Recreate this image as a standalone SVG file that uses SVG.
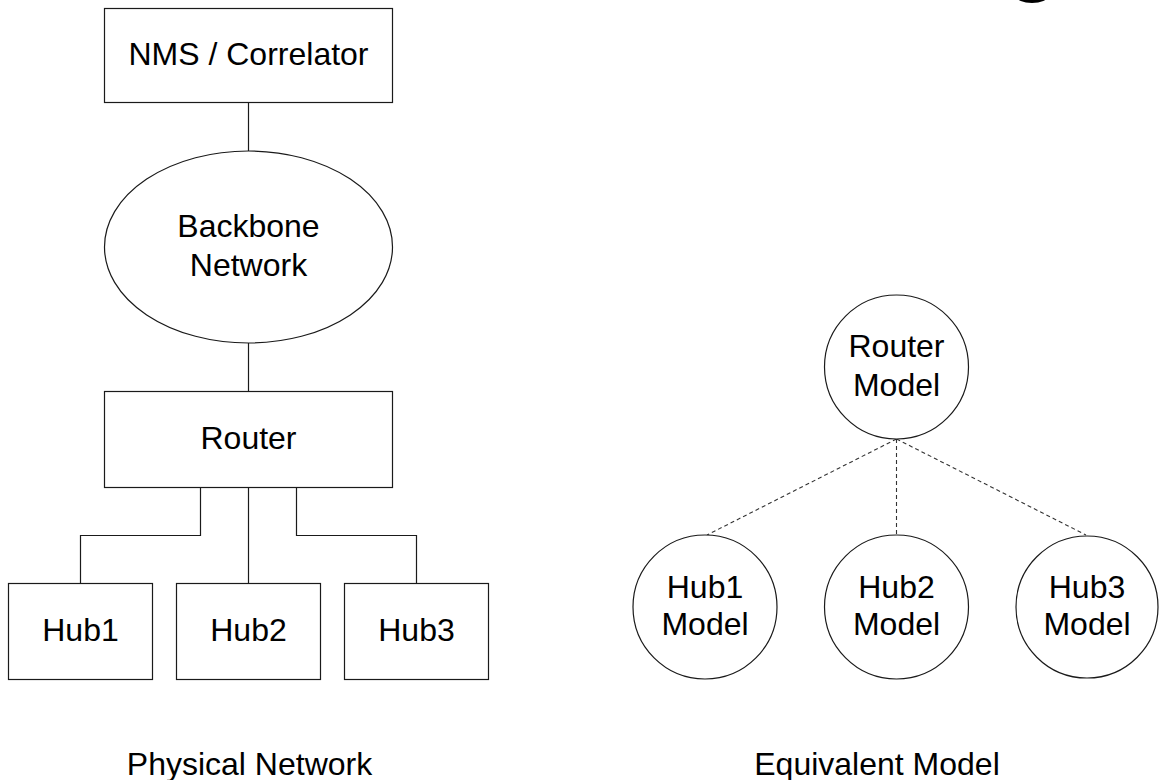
<svg xmlns="http://www.w3.org/2000/svg" width="1159" height="780" viewBox="0 0 1159 780">
  <style>
    .box { fill: #ffffff; stroke: #1a1a1a; stroke-width: 1.2; }
    .lbl { font-family: "Liberation Sans", Arial, sans-serif; font-size: 32px; fill: #000000; text-anchor: middle; }
    .wire { fill: none; stroke: #1a1a1a; stroke-width: 1.2; }
    .dash { fill: none; stroke: #333333; stroke-width: 1.1; stroke-dasharray: 4 3; }
  </style>
  <rect x="0" y="0" width="1159" height="780" fill="#ffffff"/>
  <!-- cropped glyph fragment at top edge -->
  <ellipse cx="1032" cy="-4" rx="16" ry="7" fill="#000000"/>

  <g id="connectors">
    <line class="wire" x1="248.5" y1="102.5" x2="248.5" y2="151"/>
    <line class="wire" x1="248.5" y1="343" x2="248.5" y2="391.5"/>
    <polyline class="wire" points="200.5,487.5 200.5,535.5 80.5,535.5 80.5,583.5"/>
    <line class="wire" x1="248.5" y1="487.5" x2="248.5" y2="583.5"/>
    <polyline class="wire" points="296.5,487.5 296.5,535.5 416.5,535.5 416.5,583.5"/>
    <line class="dash" x1="896.5" y1="439" x2="707" y2="535"/>
    <line class="dash" x1="896.5" y1="439" x2="896.5" y2="535"/>
    <line class="dash" x1="896.5" y1="439" x2="1086" y2="535"/>
  </g>

  <g id="nms">
    <rect class="box" x="104.5" y="8.5" width="288" height="94"/>
    <text class="lbl" x="248.5" y="65">NMS / Correlator</text>
  </g>
  <g id="backbone">
    <ellipse class="box" cx="248.5" cy="247" rx="144" ry="96"/>
    <text class="lbl" x="248.5" y="237">Backbone</text>
    <text class="lbl" x="248.5" y="276">Network</text>
  </g>
  <g id="router">
    <rect class="box" x="104.5" y="391.5" width="288" height="96"/>
    <text class="lbl" x="248.5" y="449">Router</text>
  </g>
  <g id="hub1">
    <rect class="box" x="8.5" y="583.5" width="144" height="96"/>
    <text class="lbl" x="80.5" y="641">Hub1</text>
  </g>
  <g id="hub2">
    <rect class="box" x="176.5" y="583.5" width="144" height="96"/>
    <text class="lbl" x="248.5" y="641">Hub2</text>
  </g>
  <g id="hub3">
    <rect class="box" x="344.5" y="583.5" width="144" height="96"/>
    <text class="lbl" x="416.5" y="641">Hub3</text>
  </g>

  <g id="router-model">
    <circle class="box" cx="896.5" cy="367" r="72"/>
    <text class="lbl" x="896.5" y="357">Router</text>
    <text class="lbl" x="896.5" y="396">Model</text>
  </g>
  <g id="hub1-model">
    <circle class="box" cx="705" cy="607" r="72"/>
    <text class="lbl" x="705" y="598">Hub1</text>
    <text class="lbl" x="705" y="635">Model</text>
  </g>
  <g id="hub2-model">
    <circle class="box" cx="896.5" cy="607" r="72"/>
    <text class="lbl" x="896.5" y="598">Hub2</text>
    <text class="lbl" x="896.5" y="635">Model</text>
  </g>
  <g id="hub3-model">
    <circle class="box" cx="1087" cy="607" r="71"/>
    <text class="lbl" x="1087" y="598">Hub3</text>
    <text class="lbl" x="1087" y="635">Model</text>
  </g>

  <g id="captions">
    <text class="lbl" x="249.5" y="775">Physical Network</text>
    <text class="lbl" x="877" y="775">Equivalent Model</text>
  </g>
</svg>
